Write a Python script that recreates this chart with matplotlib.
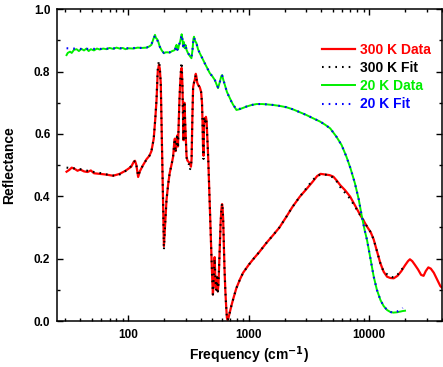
import numpy as np
import matplotlib
matplotlib.use("Agg")
import matplotlib.pyplot as plt
from matplotlib.ticker import FixedLocator, LogLocator, NullFormatter, MultipleLocator

plt.rcParams['font.family'] = ['Liberation Sans', 'DejaVu Sans']
plt.rcParams['font.weight'] = 'bold'

# ---- 300 K data ----
f300 = [30.8, 32.5, 34, 36, 38, 40, 43, 46, 49, 52, 58, 65, 75, 85, 95, 106, 111, 114, 117, 121,
        125, 132, 142, 150, 156, 163, 168, 172, 176, 180, 183, 186.5, 190, 195, 198, 202, 208, 215,
        221, 230, 236, 241, 244, 247, 251, 255, 259, 262, 266, 270, 275, 278, 282, 285, 288, 291,
        294, 297, 300, 305, 310, 318, 325, 332, 336, 341, 346, 352, 358, 364, 368, 374, 381, 393,
        403, 410, 414, 418, 422, 426, 430, 436, 442, 448, 455, 462, 470, 480, 490, 498, 505, 510,
        516, 522, 528, 534, 540, 548, 555, 562, 570, 578, 586, 595, 602, 608, 614, 622, 630, 640,
        650, 660, 670, 680, 700, 720, 750, 790, 850, 900, 1000, 1100, 1230, 1400, 1600, 1800, 2060,
        2300, 2660, 3000, 3400, 3700, 3950, 4300, 4700, 5050, 5400, 5750, 6300, 6960, 7600, 8440,
        9000, 9600, 10300, 10900, 11600, 12400, 13200, 14100, 15000, 16000, 17200, 18500, 19800,
        21000, 21800, 22800, 24000, 25500, 27000, 28300, 29500, 31000, 32500, 34400, 36500, 39000,
        40000]
r300 = [0.479, 0.485, 0.492, 0.488, 0.482, 0.486, 0.480, 0.478, 0.483, 0.474, 0.472, 0.470, 0.466,
        0.472, 0.482, 0.495, 0.510, 0.514, 0.500, 0.462, 0.480, 0.498, 0.519, 0.530, 0.545, 0.585,
        0.650, 0.709, 0.800, 0.822, 0.810, 0.762, 0.600, 0.388, 0.240, 0.300, 0.388, 0.440, 0.474,
        0.505, 0.527, 0.570, 0.585, 0.545, 0.560, 0.595, 0.560, 0.620, 0.700, 0.760, 0.805, 0.812,
        0.760, 0.660, 0.580, 0.700, 0.700, 0.640, 0.600, 0.530, 0.515, 0.510, 0.506, 0.495, 0.520,
        0.650, 0.750, 0.765, 0.775, 0.793, 0.785, 0.765, 0.757, 0.750, 0.735, 0.700, 0.640, 0.560,
        0.530, 0.620, 0.650, 0.640, 0.655, 0.640, 0.580, 0.520, 0.430, 0.320, 0.220, 0.140, 0.085,
        0.110, 0.160, 0.205, 0.150, 0.110, 0.100, 0.140, 0.095, 0.120, 0.190, 0.260, 0.320, 0.362,
        0.375, 0.360, 0.330, 0.250, 0.170, 0.100, 0.050, 0.010, 0.003, 0.010, 0.030, 0.050, 0.075,
        0.105, 0.135, 0.155, 0.180, 0.200, 0.222, 0.250, 0.276, 0.300, 0.335, 0.365, 0.399, 0.422,
        0.447, 0.465, 0.472, 0.470, 0.468, 0.463, 0.450, 0.436, 0.420, 0.399, 0.372, 0.340, 0.322,
        0.303, 0.285, 0.262, 0.225, 0.185, 0.158, 0.142, 0.138, 0.137, 0.145, 0.160, 0.178, 0.192,
        0.198, 0.192, 0.180, 0.165, 0.148, 0.145, 0.160, 0.172, 0.168, 0.155, 0.135, 0.112, 0.108]

# ---- 300 K fit ----
f300fit = [30.8, 35, 40, 46, 52, 60, 70, 78, 88, 98, 106, 111, 114, 117, 121, 125, 132, 142, 150,
           156, 163, 168, 172, 176, 180, 183, 186.5, 190, 195, 198, 202, 208, 215, 221, 230, 236,
           241, 244, 247, 251, 255, 259, 262, 266, 270, 275, 278, 282, 285, 288, 291, 294, 297,
           300, 305, 310, 318, 325, 332, 336, 341, 346, 352, 358, 364, 368, 374, 381, 393, 403,
           410, 414, 418, 422, 426, 430, 436, 442, 448, 455, 462, 470, 480, 490, 498, 505, 510,
           516, 522, 528, 534, 540, 548, 555, 562, 570, 578, 586, 595, 602, 608, 614, 622, 630,
           640, 650, 660, 670, 680, 700, 720, 750, 790, 850, 900, 1000, 1100, 1230, 1400, 1600,
           1800, 2060, 2300, 2660, 3000, 3400, 3700, 3950, 4300, 4700, 5050, 5400, 5750, 6300,
           6960, 7600, 8440, 9000, 9600, 10300, 10900, 11600, 12400, 13200, 14100, 15000, 16000,
           17200, 18500, 19500]
r300fit = [0.492, 0.490, 0.487, 0.482, 0.478, 0.474, 0.468, 0.466, 0.472, 0.485, 0.497, 0.510,
           0.514, 0.500, 0.465, 0.480, 0.498, 0.518, 0.530, 0.545, 0.585, 0.650, 0.715, 0.810,
           0.835, 0.815, 0.760, 0.590, 0.380, 0.228, 0.300, 0.388, 0.440, 0.474, 0.505, 0.527,
           0.568, 0.585, 0.540, 0.560, 0.600, 0.555, 0.620, 0.700, 0.765, 0.815, 0.830, 0.760,
           0.650, 0.575, 0.705, 0.700, 0.640, 0.600, 0.525, 0.510, 0.505, 0.485, 0.495, 0.520,
           0.650, 0.755, 0.765, 0.770, 0.790, 0.780, 0.765, 0.757, 0.750, 0.735, 0.700, 0.640,
           0.560, 0.520, 0.625, 0.655, 0.640, 0.650, 0.635, 0.580, 0.520, 0.430, 0.320, 0.220,
           0.140, 0.085, 0.110, 0.160, 0.200, 0.150, 0.110, 0.100, 0.140, 0.095, 0.120, 0.190,
           0.260, 0.320, 0.362, 0.378, 0.360, 0.330, 0.250, 0.170, 0.100, 0.050, 0.010, 0.003,
           0.010, 0.030, 0.050, 0.075, 0.105, 0.135, 0.155, 0.180, 0.200, 0.222, 0.250, 0.276,
           0.300, 0.335, 0.365, 0.399, 0.425, 0.452, 0.465, 0.470, 0.470, 0.466, 0.460, 0.447,
           0.430, 0.412, 0.392, 0.368, 0.340, 0.322, 0.303, 0.285, 0.262, 0.225, 0.185, 0.158,
           0.150, 0.142, 0.140, 0.148, 0.165, 0.172]

# ---- 20 K data ----
f20 = [30.8, 31.5, 32.9, 34, 35.5, 37.3, 39, 41, 43, 45, 47, 49, 52, 55, 58, 62, 66, 70, 75, 80,
       85, 90, 95, 100, 110, 120, 130, 142, 150, 156, 162, 167, 170, 174, 178, 183, 190, 198, 205,
       212, 221, 232, 240, 244, 248, 252, 256, 260, 264, 268, 273, 278, 282, 286, 290, 295, 300,
       305, 314, 325, 335, 342, 348, 352, 358, 369, 380, 393, 410, 432, 455, 476, 500, 524, 540,
       557, 575, 592, 603, 615, 635, 660, 700, 740, 792, 850, 960, 1060, 1165, 1300, 1407, 1600,
       1807, 2050, 2331, 2650, 3007, 3400, 3906, 4300, 4753, 5355, 5900, 6482, 7000, 7618, 8200,
       8704, 9200, 9601, 10200, 10920, 11600, 12420, 13200, 14120, 15000, 15860, 17000, 18030,
       19000, 19860]
r20 = [0.853, 0.860, 0.864, 0.860, 0.870, 0.872, 0.866, 0.873, 0.868, 0.874, 0.866, 0.872, 0.868,
       0.874, 0.871, 0.874, 0.872, 0.876, 0.873, 0.877, 0.874, 0.876, 0.872, 0.875, 0.874, 0.877,
       0.876, 0.877, 0.881, 0.886, 0.905, 0.918, 0.908, 0.904, 0.895, 0.880, 0.868, 0.859, 0.862,
       0.862, 0.861, 0.866, 0.868, 0.870, 0.880, 0.886, 0.870, 0.872, 0.885, 0.891, 0.905, 0.920,
       0.905, 0.880, 0.895, 0.875, 0.885, 0.870, 0.859, 0.850, 0.843, 0.870, 0.905, 0.912, 0.900,
       0.891, 0.872, 0.859, 0.845, 0.827, 0.810, 0.795, 0.785, 0.773, 0.760, 0.747, 0.765, 0.785,
       0.789, 0.775, 0.757, 0.735, 0.714, 0.695, 0.677, 0.680, 0.688, 0.693, 0.696, 0.696, 0.695,
       0.693, 0.690, 0.686, 0.679, 0.670, 0.661, 0.651, 0.640, 0.630, 0.618, 0.591, 0.565, 0.527,
       0.490, 0.442, 0.390, 0.335, 0.290, 0.260, 0.205, 0.142, 0.100, 0.067, 0.048, 0.035, 0.029,
       0.027, 0.028, 0.030, 0.032, 0.033]

# ---- 20 K fit ----
f20fit = [30.8, 35, 40, 46, 52, 60, 70, 80, 90, 100, 115, 130, 142, 150, 156, 162, 167, 170, 174,
          178, 183, 190, 198, 205, 212, 221, 232, 240, 248, 252, 256, 260, 264, 268, 273, 278,
          282, 286, 290, 295, 300, 305, 314, 325, 335, 342, 348, 352, 358, 369, 380, 393, 410,
          432, 455, 476, 500, 524, 540, 557, 575, 592, 603, 615, 635, 660, 700, 740, 792, 850,
          960, 1060, 1165, 1300, 1407, 1600, 1807, 2050, 2331, 2650, 3007, 3400, 3906, 4300,
          4753, 5355, 5900, 6482, 7000, 7618, 8200, 8704, 9200, 9601, 10200, 10920, 11600, 12420,
          13200, 14120, 15000, 15860, 17000, 18030, 19000]
r20fit = [0.875, 0.874, 0.873, 0.873, 0.873, 0.873, 0.874, 0.875, 0.875, 0.875, 0.876, 0.876,
          0.877, 0.881, 0.888, 0.905, 0.915, 0.908, 0.902, 0.893, 0.880, 0.868, 0.860, 0.862,
          0.862, 0.862, 0.866, 0.868, 0.875, 0.882, 0.870, 0.874, 0.885, 0.893, 0.905, 0.918,
          0.903, 0.882, 0.893, 0.877, 0.883, 0.870, 0.860, 0.850, 0.845, 0.870, 0.903, 0.910,
          0.900, 0.890, 0.872, 0.859, 0.845, 0.827, 0.810, 0.795, 0.785, 0.773, 0.760, 0.750,
          0.765, 0.783, 0.787, 0.775, 0.757, 0.735, 0.712, 0.695, 0.679, 0.681, 0.688, 0.693,
          0.696, 0.696, 0.695, 0.693, 0.690, 0.686, 0.679, 0.670, 0.661, 0.651, 0.640, 0.630,
          0.618, 0.591, 0.565, 0.527, 0.490, 0.442, 0.390, 0.335, 0.290, 0.260, 0.205, 0.142,
          0.100, 0.067, 0.048, 0.035, 0.029, 0.027, 0.030, 0.035, 0.042]

y_ticks = [0.0, 0.2, 0.4, 0.6, 0.8, 1.0]
x_ticks = [100, 1000, 10000]

fig = plt.figure(figsize=(4.43, 3.67), dpi=100)
ax = fig.add_axes([0.1293, 0.1253, 0.8677, 0.8494])

dots = (0, (0.8, 2.4))
ax.plot(f300, r300, color='#ff0000', lw=1.6, label='300 K Data', zorder=2)
ax.plot(f300fit, r300fit, color='black', lw=1.5, ls=dots, label='300 K Fit', zorder=3)
ax.plot(f20, r20, color='#00ee00', lw=1.4, label='20 K Data', zorder=4)
ax.plot(f20fit, r20fit, color='#0000ff', lw=1.5, ls=dots, label='20 K Fit', zorder=5)

ax.set_xscale('log')
ax.set_xlim(25.8, 40000)
ax.set_ylim(0, 1.0)
ax.xaxis.set_major_locator(FixedLocator(x_ticks))
ax.set_xticklabels([str(t) for t in x_ticks])
ax.xaxis.set_minor_locator(LogLocator(base=10, subs=np.arange(2, 10)))
ax.xaxis.set_minor_formatter(NullFormatter())
ax.yaxis.set_major_locator(FixedLocator(y_ticks))
ax.set_yticklabels([f"{t:.1f}" for t in y_ticks])
ax.yaxis.set_minor_locator(MultipleLocator(0.1))

ax.tick_params(which='both', direction='in', top=True, right=True, width=1.0)
ax.tick_params(which='major', length=4.5, labelsize=8.5)
ax.tick_params(axis='x', which='major', pad=6)
ax.tick_params(axis='y', which='major', pad=5)
ax.tick_params(which='minor', length=2.5)
for lab in ax.get_xticklabels() + ax.get_yticklabels():
    lab.set_fontweight('bold')
for s in ax.spines.values():
    s.set_linewidth(1.1)

ax.set_xlabel('Frequency (cm$^{\\mathbf{-1}}$)', fontsize=10, fontweight='bold', labelpad=2)
ax.set_ylabel('Reflectance', fontsize=10, fontweight='bold', labelpad=13)

leg = ax.legend(loc='upper left', bbox_to_anchor=(0.727, 0.883), bbox_transform=fig.transFigure,
                frameon=False, fontsize=10, handlelength=2.4, handletextpad=0.3,
                labelspacing=0.3, borderpad=0, borderaxespad=0)
for txt, col in zip(leg.get_texts(), ['#ff0000', 'black', '#00ee00', '#0000ff']):
    txt.set_color(col)
    txt.set_fontweight('bold')

fig.savefig('out.png', dpi=100)
